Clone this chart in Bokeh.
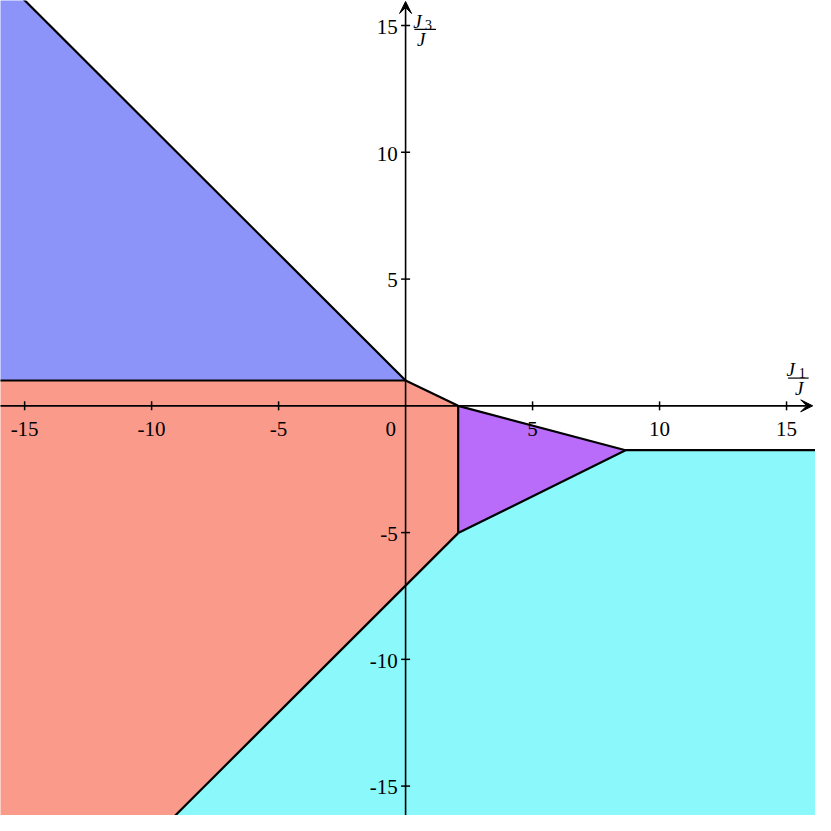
import math
from bokeh.plotting import figure
from bokeh.models import Range1d, Arrow, VeeHead
from bokeh.core.properties import value
from bokeh.embed import file_html
from bokeh.resources import INLINE

# ---- data ----
x_lo, x_hi = -15.95, 16.14
y_lo, y_hi = -16.16, 15.99

x_ticks = [-15, -10, -5, 5, 10, 15]
x_tick_labels = ["-15", "-10", "-5", "5", "10", "15"]
y_ticks = [-15, -10, -5, 5, 10, 15]
y_tick_labels = ["-15", "-10", "-5", "5", "10", "15"]

# phase regions (polygon vertices in J1/J, J3/J)
blue_x = [-20, 0, -20]
blue_y = [1, 1, 21]
salmon_x = [-20, 0, 2.07, 2.07, -12.91, -20]
salmon_y = [1, 1, 0, -5.02, -20, -20]
purple_x = [2.07, 8.66, 2.07]
purple_y = [0, -1.75, -5.02]
cyan_x = [2.07, 8.66, 20, 20, -12.91]
cyan_y = [-5.02, -1.75, -1.75, -20, -20]

region_colors = ["#8C94FA", "#FA9A8B", "#B96CFA", "#8BF9FB"]

# phase boundaries
bound_xs = [[-20, 0], [-20, 0], [0, 2.07, 8.66, 20], [2.07, 2.07], [2.07, 8.66], [2.07, -12.91]]
bound_ys = [[21, 1], [1, 1], [1, 0, -1.75, -1.75], [0, -5.02], [-5.02, -1.75], [-5.02, -20]]

SERIF = "Liberation Serif"
TICK_SIZE = "21px"
J_SIZE = "19px"
SUB_SIZE = "14px"

p = figure(width=815, height=815, output_backend="svg", toolbar_location=None,
           x_range=Range1d(x_lo, x_hi), y_range=Range1d(y_lo, y_hi),
           x_axis_type=None, y_axis_type=None, min_border=0)
p.outline_line_color = None
p.grid.visible = False
p.background_fill_color = "white"

p.patches(xs=[blue_x, salmon_x, purple_x, cyan_x],
          ys=[blue_y, salmon_y, purple_y, cyan_y],
          fill_color=region_colors, line_color=None)

p.multi_line(xs=bound_xs, ys=bound_ys, line_color="black", line_width=2.2)

# axes with arrows
p.add_layout(Arrow(end=VeeHead(size=12, fill_color="black", line_color="black"),
                   x_start=-17, y_start=0, x_end=16.03, y_end=0,
                   line_color="black", line_width=1.6))
p.add_layout(Arrow(end=VeeHead(size=12, fill_color="black", line_color="black"),
                   x_start=0, y_start=-17, x_end=0, y_end=15.95,
                   line_color="black", line_width=1.6))

# tick marks
p.scatter(x=x_ticks, y=[0] * len(x_ticks), marker="dash", size=9, angle=math.pi / 2,
          line_color="black", line_width=1.5)
p.scatter(x=[0] * len(y_ticks), y=y_ticks, marker="dash", size=9,
          line_color="black", line_width=1.5)

# tick labels
p.text(x=x_ticks, y=[-0.9] * len(x_ticks), text=x_tick_labels,
       text_align="center", text_baseline="middle",
       text_font=value(SERIF), text_font_size=TICK_SIZE, text_color="black")
p.text(x=[-0.58], y=[-0.9], text=["0"],
       text_align="center", text_baseline="middle",
       text_font=value(SERIF), text_font_size=TICK_SIZE, text_color="black")
p.text(x=[-0.31] * len(y_ticks), y=[t - 0.05 for t in y_ticks], text=y_tick_labels,
       text_align="right", text_baseline="middle",
       text_font=value(SERIF), text_font_size=TICK_SIZE, text_color="black")

# axis labels as fractions  J1/J  and  J3/J
# J1 / J (x axis)
p.text(x=[15.0], y=[1.42], text=["J"], text_align="left", text_baseline="middle",
       text_font=value(SERIF), text_font_style="italic", text_font_size=J_SIZE)
p.text(x=[15.48], y=[1.29], text=["1"], text_align="left", text_baseline="middle",
       text_font=value(SERIF), text_font_size=SUB_SIZE)
p.segment(x0=[15.06], y0=[1.095], x1=[15.87], y1=[1.095], line_color="black", line_width=1.2)
p.text(x=[15.5], y=[0.69], text=["J"], text_align="center", text_baseline="middle",
       text_font=value(SERIF), text_font_style="italic", text_font_size=J_SIZE)
# J3 / J (y axis)
p.text(x=[0.30], y=[15.18], text=["J"], text_align="left", text_baseline="middle",
       text_font=value(SERIF), text_font_style="italic", text_font_size=J_SIZE)
p.text(x=[0.76], y=[15.04], text=["3"], text_align="left", text_baseline="middle",
       text_font=value(SERIF), text_font_size=SUB_SIZE)
p.segment(x0=[0.347], y0=[14.85], x1=[1.197], y1=[14.85], line_color="black", line_width=1.2)
p.text(x=[0.62], y=[14.46], text=["J"], text_align="center", text_baseline="middle",
       text_font=value(SERIF), text_font_style="italic", text_font_size=J_SIZE)

open("out.html", "w").write(file_html(p, INLINE))
